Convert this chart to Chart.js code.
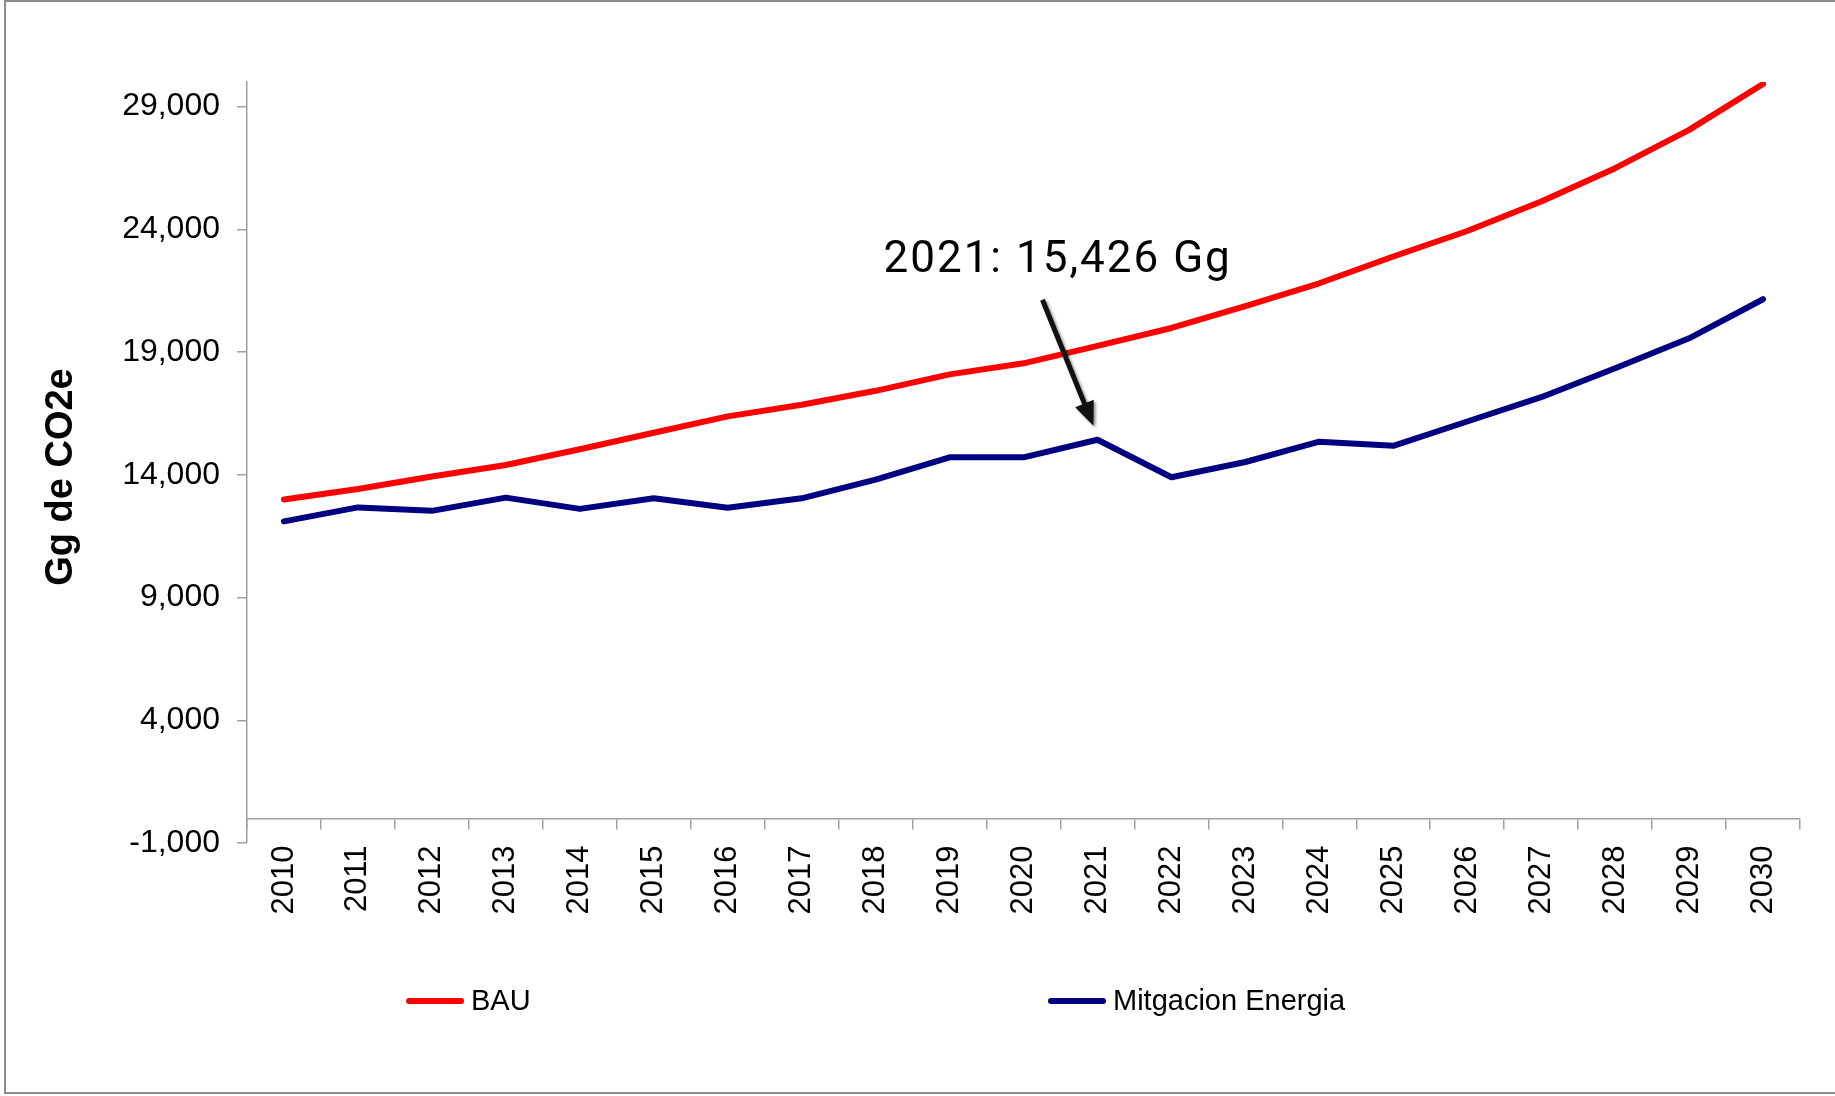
<!DOCTYPE html>
<html>
<head>
<meta charset="utf-8">
<title>Gg de CO2e</title>
<script src="https://cdn.jsdelivr.net/npm/chart.js@4.4.1/dist/chart.umd.min.js"></script>
<style>
  html, body { margin: 0; padding: 0; background: #fff; }
  canvas { display: block; }
</style>
</head>
<body>
<canvas id="emissionsChart" width="1835" height="1096"></canvas>
<script>
const years = ["2010", "2011", "2012", "2013", "2014", "2015", "2016", "2017", "2018", "2019", "2020",
  "2021", "2022", "2023", "2024", "2025", "2026", "2027", "2028", "2029", "2030"];
const bau = [12990, 13420, 13930, 14400, 15040, 15710, 16380, 16850, 17420, 18090, 18540,
  19250, 19980, 20870, 21800, 22890, 23930, 25130, 26490, 28050, 29920];
const mitigacion = [12100, 12670, 12530, 13070, 12610, 13040, 12660, 13040, 13800, 14710, 14710,
  15426, 13900, 14520, 15350, 15180, 16170, 17160, 18340, 19560, 21150];
const yTicks = [-1000, 4000, 9000, 14000, 19000, 24000, 29000];
const seriesNames = ["BAU", "Mitgacion Energia"];
const yTitle = "Gg de CO2e";
const noteYear = "2021";
const noteText = "2021: 15,426 Gg";

const axisGray = "#a0a0a0";
const sans = "'Liberation Sans', Arial, sans-serif";

// frame, y title, annotation arrow and the wide legend row
const decorations = {
  id: "decorations",
  beforeDraw(chart) {
    const ctx = chart.ctx;
    ctx.save();
    ctx.fillStyle = "#fff";
    ctx.fillRect(0, 0, chart.width, chart.height);
    ctx.strokeStyle = "#8c8c8c";
    ctx.lineWidth = 2;
    ctx.strokeRect(5, 1, chart.width + 10, 1092);
    ctx.restore();
  },
  afterDraw(chart) {
    const ctx = chart.ctx;
    const x = chart.scales.x, y = chart.scales.y;

    ctx.save();
    ctx.fillStyle = "#000";
    ctx.font = "bold 38px " + sans;
    ctx.translate(62, 477);
    ctx.rotate(-Math.PI / 2);
    ctx.textAlign = "center";
    ctx.textBaseline = "middle";
    ctx.fillText(yTitle, 0, 0);
    ctx.restore();

    // note pointing at the 2021 mitigation value
    const i = years.indexOf(noteYear);
    const px = x.getPixelForValue(i);
    const py = y.getPixelForValue(mitigacion[i]);
    ctx.save();
    ctx.fillStyle = "#000";
    ctx.font = "44px Roboto, 'Noto Sans', sans-serif";
    ctx.letterSpacing = "2px";
    ctx.textBaseline = "alphabetic";
    ctx.fillText(noteText, px - 214, py - 168);
    ctx.restore();

    const tipX = px - 4, tipY = py - 14;
    const tailX = px - 55, tailY = py - 140;
    const ang = Math.atan2(tipY - tailY, tipX - tailX);
    ctx.save();
    ctx.shadowColor = "rgba(0,0,0,0.45)";
    ctx.shadowBlur = 3;
    ctx.shadowOffsetX = 2;
    ctx.shadowOffsetY = 2;
    ctx.strokeStyle = "#111";
    ctx.fillStyle = "#111";
    ctx.lineWidth = 5;
    ctx.beginPath();
    ctx.moveTo(tailX, tailY);
    ctx.lineTo(tipX - 18 * Math.cos(ang), tipY - 18 * Math.sin(ang));
    ctx.stroke();
    ctx.translate(tipX, tipY);
    ctx.rotate(ang);
    ctx.beginPath();
    ctx.moveTo(0, 0);
    ctx.lineTo(-24, -10);
    ctx.lineTo(-24, 10);
    ctx.closePath();
    ctx.fill();
    ctx.restore();

    // legend row
    const slots = [406, 1048];
    ctx.save();
    ctx.font = "29px " + sans;
    ctx.textBaseline = "middle";
    chart.data.datasets.forEach((ds, k) => {
      const lx = slots[k], ly = 1001;
      ctx.strokeStyle = ds.borderColor;
      ctx.lineWidth = 6;
      ctx.lineCap = "round";
      ctx.beginPath();
      ctx.moveTo(lx + 3, ly);
      ctx.lineTo(lx + 55, ly);
      ctx.stroke();
      ctx.fillStyle = "#000";
      ctx.fillText(ds.label, lx + 65, ly + 1);
    });
    ctx.restore();
  }
};

const ctx = document.getElementById("emissionsChart").getContext("2d");

const emissionsChart = new Chart(ctx, {
  type: "line",
  data: {
    labels: years,
    datasets: [
      {
        label: seriesNames[0],
        data: bau,
        borderColor: "#ff0000",
        backgroundColor: "#ff0000",
        borderWidth: 6,
        pointRadius: 0,
        borderCapStyle: "round",
        borderJoinStyle: "round",
        tension: 0,
      },
      {
        label: seriesNames[1],
        data: mitigacion,
        borderColor: "#000080",
        backgroundColor: "#000080",
        borderWidth: 6,
        pointRadius: 0,
        borderCapStyle: "round",
        borderJoinStyle: "round",
        tension: 0,
      },
    ],
  },
  options: {
    responsive: false,
    animation: false,
    locale: "en-US",
    layout: {
      padding: { top: 82, right: 35, bottom: 253, left: 0 },
    },
    plugins: {
      legend: { display: false },
      tooltip: { enabled: false },
    },
    scales: {
      x: {
        type: "category",
        position: { y: 0 },
        offset: true,
        grid: {
          offset: true,
          drawOnChartArea: false,
          drawTicks: true,
          tickLength: 10,
          color: axisGray,
          lineWidth: 1.5,
        },
        border: { display: true, color: axisGray, width: 1.5 },
        ticks: {
          autoSkip: false,
          minRotation: 90,
          maxRotation: 90,
          padding: 17,
          color: "#000",
          font: { family: sans, size: 31 },
        },
      },
      y: {
        min: -1000,
        max: 30000,
        afterBuildTicks: (axis) => {
          axis.ticks = yTicks.map((value) => ({ value }));
        },
        afterFit: (axis) => {
          axis.width = 247;
        },
        grid: {
          drawOnChartArea: false,
          drawTicks: true,
          tickLength: 10,
          color: axisGray,
          lineWidth: 1.5,
        },
        border: { display: true, color: axisGray, width: 1.5 },
        ticks: {
          padding: 17,
          color: "#000",
          font: { family: sans, size: 32 },
          callback: (v) => v.toLocaleString("en-US"),
        },
      },
    },
  },
  plugins: [decorations],
});
</script>
</body>
</html>
